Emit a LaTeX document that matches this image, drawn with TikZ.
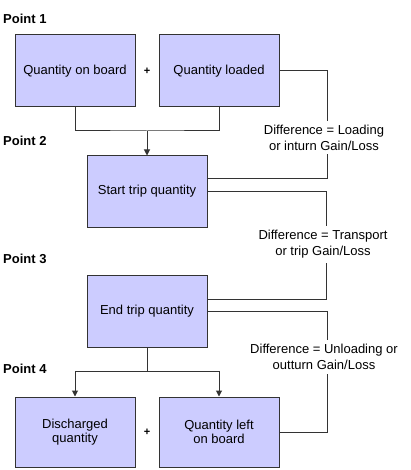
\documentclass[tikz,border=0pt]{standalone}
\usepackage{fontspec}
\setmainfont{Liberation Sans}
\usetikzlibrary{arrows.meta}
\definecolor{boxfill}{HTML}{CCCCFF}
\definecolor{edge}{HTML}{333333}
\begin{document}
\begin{tikzpicture}[x=1pt,y=-1pt,
  box/.style={draw=edge,line width=1pt,fill=boxfill,minimum width=120pt,minimum height=72pt,inner sep=0pt,align=center,font=\fontsize{13}{14}\selectfont},
  wire/.style={draw=edge,line width=1pt},
  arr/.style={wire,-{Triangle[width=6pt,length=6pt]}},
  difflabel/.style={fill=white,inner sep=4pt,align=center,font=\fontsize{13}{16}\selectfont},
  pointlabel/.style={anchor=west,inner sep=0pt,font=\fontsize{13}{14}\selectfont\bfseries},
  plus/.style={inner sep=0pt,font=\fontsize{11}{12}\selectfont\bfseries}]
\useasboundingbox (0,0) rectangle (410,470);
\node[pointlabel] (p1) at (3,19) {Point 1};
\node[pointlabel] (p2) at (3,141) {Point 2};
\node[pointlabel] (p3) at (3,259) {Point 3};
\node[pointlabel] (p4) at (3,369) {Point 4};
\node[box] (b1) at (75,71) {Quantity on board};
\node[box] (b2) at (219,71) {Quantity loaded};
\node[plus] (pl1) at (147,71) {+};
\node[box,minimum height=71pt] (b3) at (147,191.5) {Start trip quantity};
\node[box] (b4) at (147,311) {End trip quantity};
\node[box,minimum height=70pt] (b5) at (75,432) {Discharged\\quantity};
\node[box,minimum height=70pt] (b6) at (219,432) {Quantity left\\on board};
\node[plus] (pl2) at (147,432) {+};
\coordinate (j1) at (147,131);
\coordinate (j2) at (147,371);
\draw[wire] (b1.south) |- (j1) -| (b2.south);
\draw[arr] (j1) -- (b3.north);
\draw[wire] (b4.south) -- (j2);
\draw[arr] (j2) -| (b5.north);
\draw[arr] (j2) -| (b6.north);
\draw[wire] (b2.east) -- ++(48,0) |- ([yshift=12.5pt]b3.east);
\draw[wire] (b3.east) -- ++(119,0) |- ([yshift=12pt]b4.east);
\draw[wire] (b4.east) -- ++(120,0) |- (b6.east);
\node[difflabel] (l1) at (324,137.5) {Difference = Loading\\or inturn Gain/Loss};
\node[difflabel] (l2) at (323,244.5) {Difference = Transport\\or trip Gain/Loss};
\node[difflabel] (l3) at (324,357) {Difference = Unloading or\\outturn Gain/Loss};
\end{tikzpicture}
\end{document}
